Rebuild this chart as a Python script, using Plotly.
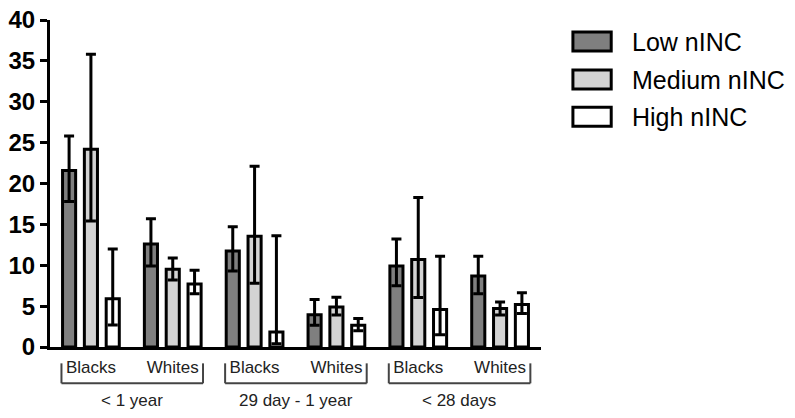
import plotly.graph_objects as go

# ---- data ----
categories = ["Blacks", "Whites", "Blacks", "Whites", "Blacks", "Whites"]
groups = ["< 1 year", "29 day - 1 year", "< 28 days"]
series_names = ["Low nINC", "Medium nINC", "High nINC"]

low_vals = [21.6, 12.6, 11.75, 3.95, 9.9, 8.7]
low_upper = [25.8, 15.7, 14.7, 5.8, 13.2, 11.1]
low_lower = [17.8, 9.9, 9.3, 2.65, 7.5, 6.5]

med_vals = [24.2, 9.5, 13.55, 4.9, 10.7, 4.7]
med_upper = [35.8, 10.9, 22.1, 6.1, 18.3, 5.5]
med_lower = [15.4, 8.2, 7.8, 3.9, 6.05, 3.9]

high_vals = [5.9, 7.7, 1.85, 2.65, 4.6, 5.2]
high_upper = [12.0, 9.4, 13.6, 3.5, 11.1, 6.65]
high_lower = [2.7, 6.5, 0.4, 2.0, 1.5, 4.1]

colors = ["#7f7f7f", "#d3d3d3", "#ffffff"]
y_ticks = [0, 5, 10, 15, 20, 25, 30, 35, 40]

series = [
    (low_vals, low_upper, low_lower),
    (med_vals, med_upper, med_lower),
    (high_vals, high_upper, high_lower),
]

xpos = list(range(len(categories)))

fig = go.Figure()
for name, color, (vals, up, lo) in zip(series_names, colors, series):
    fig.add_trace(go.Bar(
        x=xpos, y=vals, name=name,
        marker=dict(color=color, line=dict(color="black", width=3)),
        error_y=dict(
            type="data", symmetric=False,
            array=[u - v for u, v in zip(up, vals)],
            arrayminus=[v - l for v, l in zip(vals, lo)],
            color="black", thickness=3, width=5,
        ),
        showlegend=False,
    ))

# ---- layout ----
fig.update_layout(
    width=795, height=418,
    margin=dict(l=50, r=254, t=20, b=71),
    paper_bgcolor="white", plot_bgcolor="white",
    barmode="group", bargap=0.2, bargroupgap=0.4,
    font=dict(family="Liberation Sans, Arial, sans-serif", color="black"),
)
fig.update_yaxes(
    range=[0, 40], tickvals=y_ticks, showgrid=False, zeroline=False, automargin=False,
    showline=True, linecolor="black", linewidth=3,
    ticks="outside", ticklen=7, tickwidth=3, tickcolor="black", ticklabelstandoff=0,
    tickfont=dict(size=24, family="Liberation Sans, Arial, sans-serif", weight="bold", color="black"),
)
fig.update_xaxes(
    range=[-0.5, len(categories) - 0.5], tickvals=xpos, ticktext=categories,
    showgrid=False, zeroline=False, showline=True, linecolor="black", linewidth=3,
    automargin=False, ticks="", ticklabelstandoff=3,
    tickfont=dict(size=17, color="#222222"),
)

# group brackets and labels
for gi, g in enumerate(groups):
    x0 = 2 * gi - 0.36
    x1 = 2 * gi + 1.37
    for xs in (x0, x1):
        fig.add_shape(type="line", xref="x", yref="paper", x0=xs, x1=xs, y0=-0.05, y1=-0.111,
                      line=dict(color="#444444", width=2))
    fig.add_shape(type="line", xref="x", yref="paper", x0=x0, x1=x1, y0=-0.111, y1=-0.111,
                  line=dict(color="#444444", width=2))
    fig.add_annotation(x=2 * gi + 0.5, xref="x", y=-0.163, yref="paper", text=g,
                       showarrow=False, font=dict(size=17, color="#222222"),
                       xanchor="center", yanchor="middle")

# legend
row_y = [0.934, 0.818, 0.704]
for name, color, yc in zip(series_names, colors, row_y):
    fig.add_shape(type="rect", xref="paper", yref="paper", x0=1.065, x1=1.143,
                  y0=yc - 0.029, y1=yc + 0.029,
                  fillcolor=color, line=dict(color="black", width=3))
    fig.add_annotation(x=1.181, xref="paper", y=yc, yref="paper", text=name,
                       showarrow=False, font=dict(size=25, color="black"),
                       xanchor="left", yanchor="middle")

fig.write_html("out.html", config={"displayModeBar": False},
               post_script="document.body.style.margin='0';document.body.style.overflow='hidden';")
